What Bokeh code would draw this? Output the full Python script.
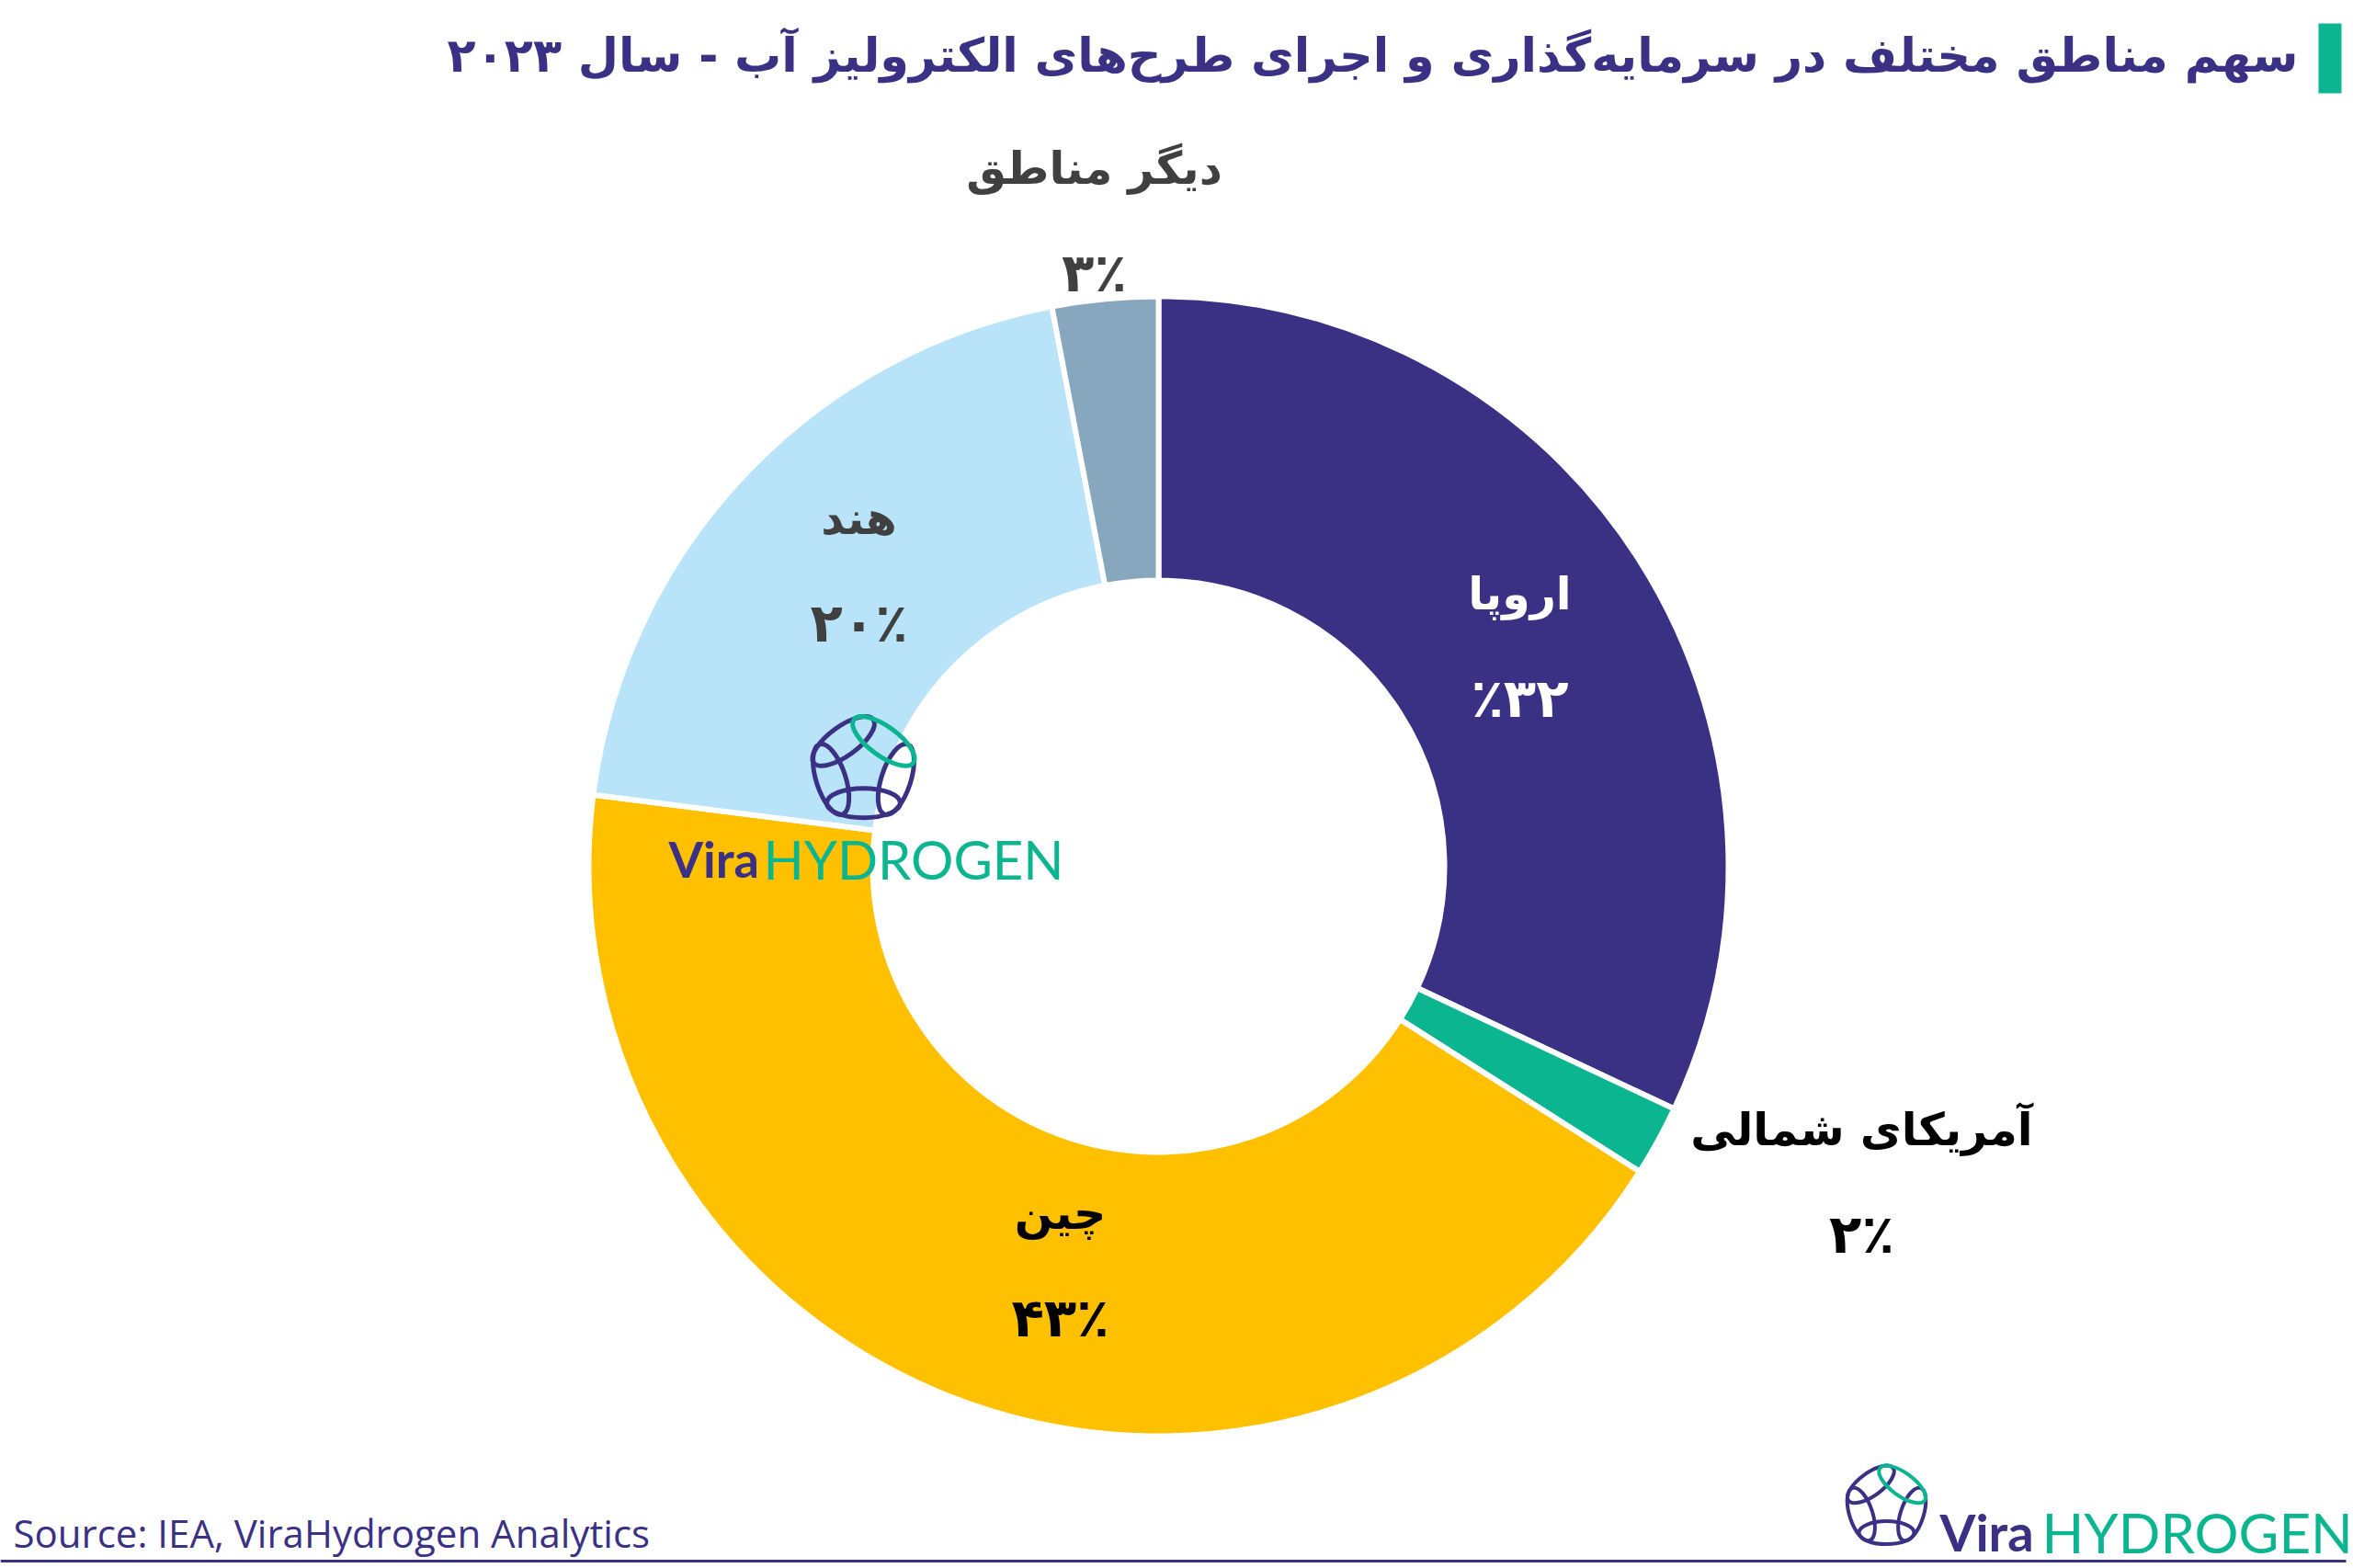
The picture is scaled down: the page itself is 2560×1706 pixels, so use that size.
import numpy as np
from bokeh.plotting import figure
from bokeh.models import Range1d, ColumnDataSource
from bokeh.core.properties import value
from bokeh.embed import file_html
from bokeh.resources import INLINE

# ---------------- data ----------------
regions = ["اروپا", "آمریکای شمالی", "چین", "هند", "دیگر مناطق"]
shares = [32, 2, 43, 20, 3]
pct_labels = ["٪۳۲", "۲٪", "۴۳٪", "۲۰٪", "۳٪"]
slice_colors = ["#3A3185", "#0BB58F", "#FFC000", "#B8E3F8", "#87A7BF"]

title_text = "سهم مناطق مختلف در سرمایه‌گذاری و اجرای طرح‌های الکترولیز آب - سال ۲۰۲۳"
source_text = "Source: IEA, ViraHydrogen Analytics"

# ---------------- layout ----------------
W, H = 2560, 1706
INDIGO = "#3A3185"
TEAL = "#0BB58F"
AR_FONT = value("DejaVu Sans")

def Y(y):  # convert top-down pixel position to data y
    return H - y

cx, cy = 1260, Y(942)
r_out, r_in = 620, 311

# label anchor points (top-down pixel positions) and text colors
label_pos = [(1653, 703), (2025, 1286), (1153, 1377), (934, 621), (1190, 240)]
label_colors = ["white", "black", "black", "#404040", "#404040"]

p = figure(width=W, height=H, x_range=Range1d(0, W), y_range=Range1d(0, H),
           output_backend="svg", toolbar_location=None, min_border=0,
           x_axis_type=None, y_axis_type=None)
p.grid.visible = False
p.outline_line_color = None
p.background_fill_color = "white"
p.border_fill_color = "white"

# ---------------- donut ----------------
frac = np.array(shares, dtype=float) / sum(shares)
cum = np.concatenate([[0.0], np.cumsum(frac)])
start = np.pi / 2 - 2 * np.pi * cum[1:]
end = np.pi / 2 - 2 * np.pi * cum[:-1]
src = ColumnDataSource(dict(start=start, end=end, color=slice_colors, region=regions))
p.annular_wedge(x=cx, y=cy, inner_radius=r_in, outer_radius=r_out,
                start_angle="start", end_angle="end", fill_color="color",
                line_color="white", line_width=6, source=src)

# ---------------- labels ----------------
lx = [q[0] for q in label_pos]
ly_name = [Y(q[1] - 57) for q in label_pos]
ly_pct = [Y(q[1] + 56) for q in label_pos]
lab = ColumnDataSource(dict(x=lx, yn=ly_name, yp=ly_pct, name=regions,
                            pct=pct_labels, c=label_colors))
p.text(x="x", y="yn", text="name", source=lab, text_color="c",
       text_font=AR_FONT, text_font_style="bold", text_font_size="49px",
       text_align="center", text_baseline="middle")
p.text(x="x", y="yp", text="pct", source=lab, text_color="c",
       text_font=AR_FONT, text_font_style="bold", text_font_size="58px",
       text_align="center", text_baseline="middle")

# ---------------- title ----------------
p.quad(left=2522, right=2547, top=Y(25), bottom=Y(101), fill_color=TEAL, line_color=None)
p.text(x=[2500], y=[Y(60)], text=[title_text], text_color=INDIGO,
       text_font=AR_FONT, text_font_style="bold", text_font_size="51px",
       text_align="right", text_baseline="middle")

# ---------------- source + bottom rule ----------------
p.text(x=[14], y=[Y(1667)], text=[source_text], text_color=INDIGO,
       text_font=value("Open Sans"), text_font_size="42px",
       text_align="left", text_baseline="middle")
p.segment(x0=[0], y0=[Y(1698)], x1=[2552], y1=[Y(1698)], line_color=INDIGO, line_width=3)

# ---------------- logos ----------------
def chain(pcx, pcy, R, link_len, link_th, lw):
    angs = np.deg2rad([90, 162, 234, 306, 18])
    vx = pcx + R * np.cos(angs)
    vy = pcy + R * np.sin(angs)
    xs, ys, a, cols = [], [], [], []
    for k in range(5):
        x0, y0 = vx[k], vy[k]
        x1, y1 = vx[(k + 1) % 5], vy[(k + 1) % 5]
        xs.append((x0 + x1) / 2)
        ys.append((y0 + y1) / 2)
        a.append(np.arctan2(y1 - y0, x1 - x0))
        cols.append(TEAL if k == 4 else INDIGO)
    p.ellipse(x=xs, y=ys, width=link_len, height=link_th, angle=a,
              fill_color=None, line_color=cols, line_width=lw)

def wordmark(x_vira, x_hyd, yc, s_vira, s_hyd):
    p.text(x=[x_vira], y=[Y(yc)], text=["Vira"], text_color=INDIGO,
           text_font=value("Lato"), text_font_style="bold", text_font_size=f"{s_vira}px",
           text_align="left", text_baseline="middle")
    p.text(x=[x_hyd], y=[Y(yc)], text=["HYDROGEN"], text_color=TEAL,
           text_font=value("Lato"), text_font_size=f"{s_hyd}px",
           text_align="left", text_baseline="middle")

# watermark on the chart
chain(939, Y(836), 46, 80, 32, 5)
wordmark(727, 830, 934, 54, 58)
# corner logo
chain(2052, Y(1638), 36, 60, 25, 4)
wordmark(2110, 2221, 1666, 56, 60)

open("out.html", "w").write(file_html(p, INLINE))
